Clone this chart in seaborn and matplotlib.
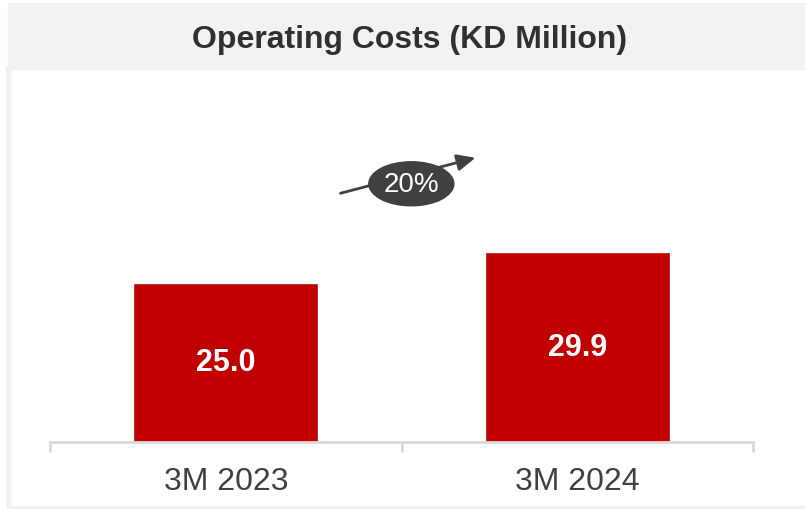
import pandas as pd
import matplotlib.pyplot as plt
import matplotlib.patches as mpatches
import seaborn as sns

# Chart data
periods = ["3M 2023", "3M 2024"]
costs = [25.0, 29.9]
growth_label = "20%"

df = pd.DataFrame({"period": periods, "cost": costs})

sns.set_style("white")
plt.rcParams["font.family"] = ["Liberation Sans", "DejaVu Sans"]

W, H = 805, 510
fig = plt.figure(figsize=(W / 100, H / 100), dpi=100)

# Title band and light frame
fig.patches.append(mpatches.Rectangle((8 / W, 1 - 70 / H), 1 - 8 / W, 66 / H,
                                      transform=fig.transFigure, color="#F2F2F2", zorder=0))
fig.patches.append(mpatches.Rectangle((6 / W, 3 / H), 4 / W, (440) / H,
                                      transform=fig.transFigure, color="#F0F0F0", zorder=0))
fig.patches.append(mpatches.Rectangle((6 / W, 0), 1 - 6 / W, 3 / H,
                                      transform=fig.transFigure, color="#F0F0F0", zorder=0))
fig.text(410 / W, 1 - 40 / H, "Operating Costs (KD Million)", ha="center", va="center",
         fontsize=23, fontweight="bold", color="#303030")

ax = fig.add_axes([50 / W, 67 / H, 703 / W, (443 - 70) / H])
ax.patch.set_alpha(0)

sns.barplot(data=df, x="period", y="cost", color="#C00000", saturation=1,
            width=0.526, ax=ax)

# Value labels inside bars
ax.bar_label(ax.containers[0], labels=[f"{v:.1f}" for v in costs], label_type="center",
             color="white", fontsize=22, fontweight="bold")

px_per_unit = 6.36
ax.set_xlim(-0.5, 1.5)
ax.set_ylim(0, (443 - 70) / px_per_unit)

# Growth arrow with ellipse badge
ax.annotate("", xy=(0.718, 44.8), xytext=(0.319, 39.0),
            arrowprops=dict(arrowstyle="-|>,head_length=1.1,head_width=0.5",
                            color="#404040", lw=2))
ax.add_patch(mpatches.Ellipse((0.528, 40.6), 85 / 351.5, 44 / px_per_unit,
                              color="#404040", zorder=5))
ax.text(0.528, 40.6, growth_label, ha="center", va="center", fontsize=20,
        color="white", zorder=6)

# Axes styling
for side in ["top", "right", "left"]:
    ax.spines[side].set_visible(False)
ax.spines["bottom"].set_color("#D9D9D9")
ax.spines["bottom"].set_linewidth(2)
ax.set_yticks([])
ax.set_xlabel("")
ax.set_ylabel("")
ax.tick_params(axis="x", which="major", length=0, pad=17, labelsize=23, labelcolor="#404040")
ax.set_xticks([-0.5, 0.5, 1.5], minor=True)
ax.tick_params(axis="x", which="minor", bottom=True, length=7.5, width=2,
               color="#D9D9D9", direction="out")

plt.savefig("out.png", dpi=100)
